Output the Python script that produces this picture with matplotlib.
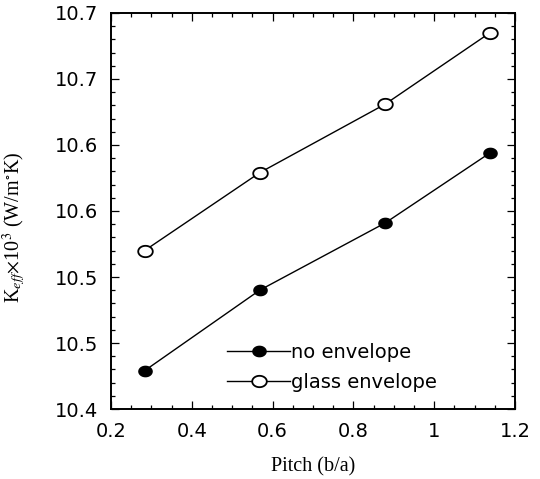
import matplotlib
matplotlib.use("Agg")
import matplotlib.pyplot as plt
import numpy as np
from matplotlib.path import Path
from matplotlib.ticker import MultipleLocator, FixedLocator, FixedFormatter

# Data: effective thermal conductivity vs. pitch
pitch = [0.283, 0.568, 0.879, 1.138]
k_no_envelope = [10.429, 10.490, 10.541, 10.594]
k_glass_envelope = [10.520, 10.579, 10.631, 10.685]

x_ticks = [0.2, 0.4, 0.6, 0.8, 1.0, 1.2]
x_tick_labels = ["0.2", "0.4", "0.6", "0.8", "1", "1.2"]
y_ticks = [10.40, 10.45, 10.50, 10.55, 10.60, 10.65, 10.70]
y_tick_labels = ["10.4", "10.5", "10.5", "10.6", "10.6", "10.7", "10.7"]

plt.rcParams["mathtext.fontset"] = "stix"

fig = plt.figure(figsize=(5.4, 4.79), dpi=100)
ax = fig.add_axes([0.2056, 0.1461, 0.7481, 0.8268])

# slightly flattened circle marker
t = np.linspace(0, 2 * np.pi, 60)
ellipse = Path(np.column_stack([np.cos(t), 0.78 * np.sin(t)]), closed=True)

ax.plot(pitch, k_no_envelope, color="black", lw=1.0, marker=ellipse,
        markersize=9.5, markerfacecolor="black", markeredgecolor="black",
        markeredgewidth=1.0, label="no envelope")
ax.plot(pitch, k_glass_envelope, color="black", lw=1.0, marker=ellipse,
        markersize=10.5, markerfacecolor="white", markeredgecolor="black",
        markeredgewidth=1.3, label="glass envelope")

ax.set_xlim(0.2, 1.2)
ax.set_ylim(10.40, 10.70)

ax.xaxis.set_major_locator(FixedLocator(x_ticks))
ax.xaxis.set_major_formatter(FixedFormatter(x_tick_labels))
ax.xaxis.set_minor_locator(MultipleLocator(0.05))
ax.yaxis.set_major_locator(FixedLocator(y_ticks))
ax.yaxis.set_major_formatter(FixedFormatter(y_tick_labels))
ax.yaxis.set_minor_locator(MultipleLocator(0.01))

ax.tick_params(which="both", direction="in", top=True, right=True, width=0.9)
ax.tick_params(which="major", length=6)
ax.tick_params(which="minor", length=3)
ax.tick_params(axis="y", which="major", pad=9, labelsize=14)
ax.tick_params(axis="x", which="major", pad=9, labelsize=14)
for lab in ax.get_xticklabels() + ax.get_yticklabels():
    lab.set_fontfamily("DejaVu Sans")

for s in ax.spines.values():
    s.set_linewidth(1.4)

ax.set_xlabel("Pitch (b/a)", family="Liberation Serif", fontsize=14.5, labelpad=12)
ax.set_ylabel(r"K$_{eff}$$\times$10$^{3}$ (W/m$^{\circ}$K)",
              family="Liberation Serif", fontsize=14.5)
ax.yaxis.set_label_coords(-0.205, 0.46)

leg = ax.legend(loc="lower left", bbox_to_anchor=(0.245, 0.0), frameon=False,
                handlelength=3.2, handletextpad=0.05, labelspacing=0.55,
                prop={"family": "DejaVu Sans", "size": 14})

fig.savefig("out.png", dpi=100)
